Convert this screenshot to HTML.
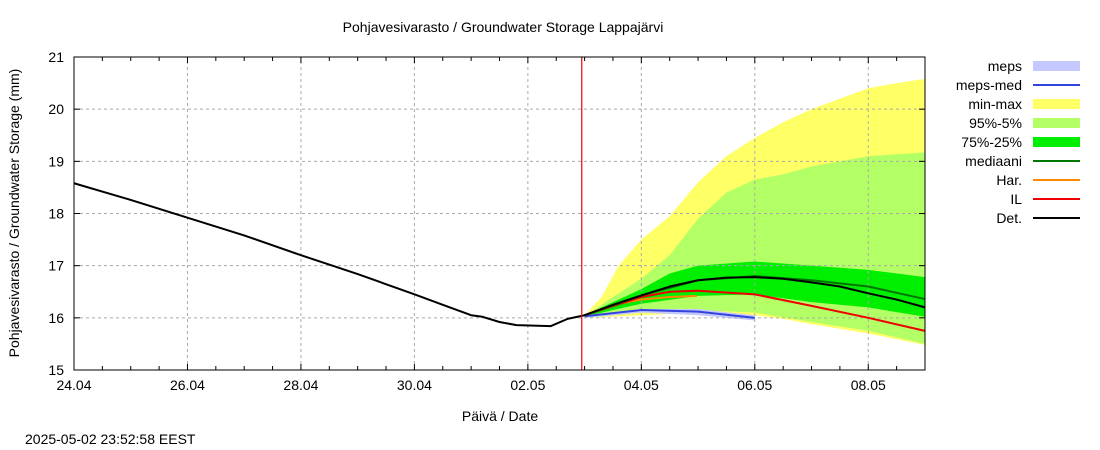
<!DOCTYPE html>
<html><head><meta charset="utf-8"><style>
body{margin:0;background:#fff;}
svg{display:block;font-family:"Liberation Sans",sans-serif;}
</style></head><body>
<svg id="chart" width="1100" height="450">
<text x="503" y="32" font-size="14" text-anchor="middle">Pohjavesivarasto / Groundwater Storage   Lappajärvi</text>
<text transform="translate(19,213) rotate(-90)" font-size="14" text-anchor="middle">Pohjavesivarasto / Groundwater Storage (mm)</text>
<text x="500" y="421" font-size="14" text-anchor="middle">Päivä / Date</text>
<text x="25" y="444" font-size="14">2025-05-02 23:52:58 EEST</text>
<g id="plot"></g>
<g id="legend"></g>
</svg>
<script>
const xTicks=[0,2,4,6,8,10,12,14];
const xTickLabels=["24.04","26.04","28.04","30.04","02.05","04.05","06.05","08.05"];
const yTicks=[15,16,17,18,19,20,21];
const nowDay=8.95;
const detDays=[0,1,2,3,4,5,6,6.5,7,7.2,7.5,7.8,8.4,8.7,9,9.5,10,10.5,11,11.5,12,12.5,13,13.5,14,14.5,15];
const detVals=[18.58,18.26,17.92,17.58,17.2,16.84,16.45,16.25,16.05,16.02,15.92,15.86,15.84,15.98,16.05,16.25,16.43,16.6,16.72,16.77,16.78,16.75,16.68,16.6,16.47,16.35,16.2];
const maxDays=[9,9.3,9.6,10,10.5,11,11.5,12,12.5,13,13.5,14,14.5,15];
const maxVals=[16.05,16.4,17.0,17.5,17.95,18.6,19.1,19.45,19.75,20.0,20.2,20.4,20.5,20.58];
const minDays=[9,10,11,12,12.5,13,14,15];
const minVals=[16.0,16.05,16.1,16.05,15.98,15.88,15.7,15.48];
const p95Days=[9,9.5,10,10.5,11,11.5,12,12.5,13,13.5,14,15];
const p95Vals=[16.03,16.4,16.75,17.2,17.9,18.4,18.65,18.75,18.9,19.0,19.1,19.17];
const p5Days=[9,10,11,12,13,14,15];
const p5Vals=[16.0,16.1,16.15,16.1,15.92,15.75,15.5];
const p75Days=[9,9.5,10,10.5,11,12,13,14,15];
const p75Vals=[16.05,16.3,16.55,16.85,17.0,17.08,17.0,16.92,16.78];
const p25Days=[9,9.5,10,11,12,13,14,15];
const p25Vals=[16.02,16.15,16.27,16.42,16.45,16.3,16.2,16.02];
const medDays=[9,10,11,12,13,14,15];
const medVals=[16.05,16.43,16.72,16.8,16.72,16.6,16.36];
const ilDays=[9,10,10.5,11,12,13,14,15];
const ilVals=[16.05,16.4,16.5,16.52,16.45,16.23,16.0,15.75];
const harDays=[9,9.5,10,10.5,10.98];
const harVals=[16.05,16.25,16.35,16.4,16.42];
const mepsDays=[9,10,11,12];
const mepsTop=[16.05,16.17,16.17,16.05];
const mepsBot=[16.0,16.1,16.05,15.95];
const mepsMed=[16.03,16.15,16.12,16.0];

const X0=74,X1=925,Y0=370,Y1=57;
const sx=d=>X0+d*(X1-X0)/15;
const sy=v=>Y0-(v-15)*(Y0-Y1)/6;
const NS="http://www.w3.org/2000/svg";
const plot=document.getElementById('plot');
function mk(tag,attrs,parent){const e=document.createElementNS(NS,tag);for(const k in attrs)e.setAttribute(k,attrs[k]);(parent||plot).appendChild(e);return e;}
function pts(d,v){return d.map((x,i)=>sx(x)+','+sy(v[i])).join(' ');}
function band(d1,v1,d2,v2,color,name){
  const p=mk('polygon',{points:pts(d1,v1)+' '+pts(d2.slice().reverse(),v2.slice().reverse()),fill:color});
  
  
}
function line(d,v,color,w,name){
  const l=mk('polyline',{points:pts(d,v),fill:'none',stroke:color,'stroke-width':w,'stroke-linejoin':'round'});
  
  
}
band(maxDays,maxVals,minDays,minVals,'#ffff66','min-max-band');
band(p95Days,p95Vals,p5Days,p5Vals,'#b3ff66','p95-p5-band');
band(p75Days,p75Vals,p25Days,p25Vals,'#00ee00','p75-p25-band');
band(mepsDays,mepsTop,mepsDays,mepsBot,'#c4c8ff','meps-band');
// grid
yTicks.forEach(v=>{
  if(v>15&&v<21){const g=mk('line',{x1:X0,x2:X1,y1:sy(v),y2:sy(v),stroke:'#aaa','stroke-dasharray':'3,3'});
  
  }
  const t=mk('text',{x:X0-10,y:sy(v)+5,'font-size':14,'text-anchor':'end'});t.textContent=v;
  
  
  mk('line',{x1:X0,x2:X0+6,y1:sy(v),y2:sy(v),stroke:'#000'});
  mk('line',{x1:X1,x2:X1-6,y1:sy(v),y2:sy(v),stroke:'#000'});
});
xTicks.forEach((d,i)=>{
  if(d>0){const g=mk('line',{x1:sx(d),x2:sx(d),y1:Y0,y2:Y1,stroke:'#aaa','stroke-dasharray':'3,3'});
  
  }
  const t=mk('text',{x:sx(d),y:Y0+20,'font-size':14,'text-anchor':'middle'});t.textContent=xTickLabels[i];
  
  
});
for(let d=0;d<=15;d+=0.5){mk('line',{x1:sx(d),x2:sx(d),y1:Y0,y2:Y0-(d%2===0?6:4),stroke:'#000'});mk('line',{x1:sx(d),x2:sx(d),y1:Y1,y2:Y1+(d%2===0?6:4),stroke:'#000'});}
line(mepsDays,mepsMed,'#3344dd',2,'meps-med-line');
line(harDays,harVals,'#ff8800',2,'har-line');
line(ilDays,ilVals,'#ee0000',2,'il-line');
line(medDays,medVals,'#007700',2,'median-line');
line(detDays,detVals,'#000',2,'det-line');
const nl=mk('line',{x1:sx(nowDay),x2:sx(nowDay),y1:Y1,y2:Y0,stroke:'#ee0000','stroke-width':1.2});


const fr=mk('rect',{x:X0,y:Y1,width:X1-X0,height:Y0-Y1,fill:'none',stroke:'#000'});


// legend
const leg=document.getElementById('legend');
const legItems=[["meps","band","#c4c8ff"],["meps-med","line","#3344dd"],["min-max","band","#ffff66"],["95%-5%","band","#b3ff66"],["75%-25%","band","#00ee00"],["mediaani","line","#007700"],["Har.","line","#ff8800"],["IL","line","#ee0000"],["Det.","line","#000"]];
legItems.forEach((it,i)=>{
  const y=66+i*19;
  const g=mk('g',{},leg);
  
  
  const t=mk('text',{x:1022,y:y+5,'font-size':14,'text-anchor':'end'},g);t.textContent=it[0];
  if(it[1]==='band')mk('rect',{x:1033,y:y-5,width:47,height:10,fill:it[2]},g);
  else mk('line',{x1:1033,x2:1080,y1:y,y2:y,stroke:it[2],'stroke-width':2},g);
});
</script>
</body></html>
